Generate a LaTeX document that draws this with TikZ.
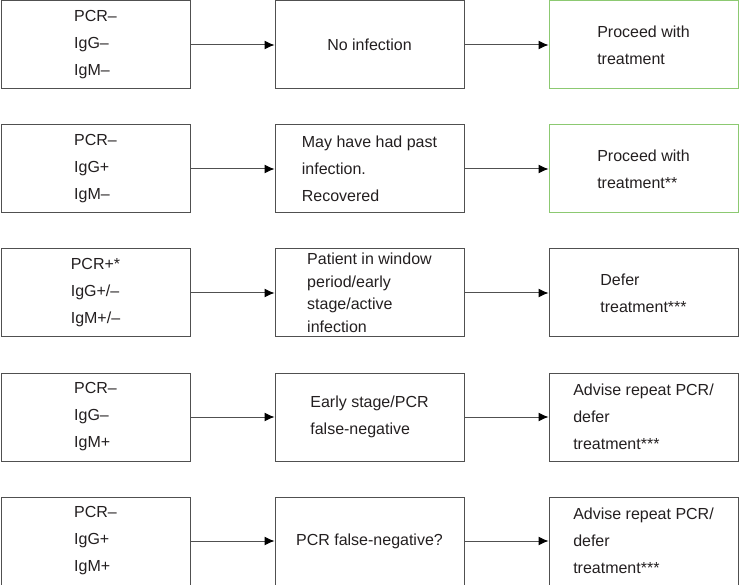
\documentclass[tikz,border=0pt]{standalone}
\usepackage{fontspec}
\setmainfont{Liberation Sans}
\usetikzlibrary{arrows.meta}
\definecolor{boxgray}{HTML}{505050}
\definecolor{boxgreen}{HTML}{8CC971}
\definecolor{txt}{HTML}{231F20}

\begin{document}
\begin{tikzpicture}[x=1pt,y=1pt]

\tikzset{box/.style = {shape=rectangle,draw=boxgray,line width=1pt,minimum width=189pt,minimum height=88pt,inner sep=0pt,align=left,text=txt,font=\fontsize{16}{27}\selectfont}}
\tikzset{okbox/.style = {box,draw=boxgreen}}
\tikzset{edge/.style = {-{Latex[length=10pt,width=9pt,black]},draw=boxgray,line width=1pt}}

\useasboundingbox (0,0) rectangle (739,-585);
%tests
\node[box] (t1) at (95.5,-45) {PCR–\\IgG–\\IgM–};
\node[box] (t2) at (95.5,-169) {PCR–\\IgG+\\IgM–};
\node[box] (t3) at (95.5,-293) {PCR+*\\IgG+/–\\IgM+/–};
\node[box] (t4) at (95.5,-417) {PCR–\\IgG–\\IgM+};
\node[box] (t5) at (95.5,-541) {PCR–\\IgG+\\IgM+};
%meaning
\node[box] (m1) at (369.5,-45) {No infection};
\node[box] (m2) at (369.5,-169) {May have had past\\infection.\\Recovered};
\node[box, font=\fontsize{16}{22.5}\selectfont] (m3) at (369.5,-293) {Patient in window\\period/early\\stage/active\\infection};
\node[box] (m4) at (369.5,-417) {Early stage/PCR\\false-negative};
\node[box] (m5) at (369.5,-541) {PCR false-negative?};
%advice
\node[okbox] (r1) at (643.5,-45) {Proceed with\\treatment};
\node[okbox] (r2) at (643.5,-169) {Proceed with\\treatment**};
\node[box] (r3) at (643.5,-293) {Defer\\treatment***};
\node[box] (r4) at (643.5,-417) {Advise repeat PCR/\\defer\\treatment***};
\node[box] (r5) at (643.5,-541) {Advise repeat PCR/\\defer\\treatment***};
%edges
\foreach \i in {1,...,5}{
  \draw[edge] (t\i) -- (m\i);
  \draw[edge] (m\i) -- (r\i);
}

\end{tikzpicture}
\end{document}
